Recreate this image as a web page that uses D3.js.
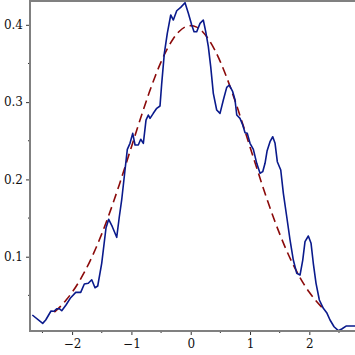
<!DOCTYPE html>
<html><head><meta charset="utf-8">
<script src="https://cdn.jsdelivr.net/npm/d3@7"></script>
<style>body{margin:0;background:#fff}svg{display:block}</style>
</head><body>
<svg id="c" width="355" height="355"></svg>
<script>
// Empirical density (blue line)
const densX = [-2.671,-2.496,-2.445,-2.356,-2.305,-2.260,-2.216,-2.175,-2.103,-2.024,-1.939,-1.855,-1.794,-1.727,-1.669,-1.614,-1.568,-1.501,-1.428,-1.383,-1.322,-1.248,-1.204,-1.164,-1.108,-1.069,-1.024,-0.978,-0.939,-0.884,-0.843,-0.799,-0.754,-0.715,-0.686,-0.631,-0.573,-0.518,-0.489,-0.445,-0.395,-0.337,-0.293,-0.236,-0.169,-0.096,-0.040,0.017,0.056,0.101,0.157,0.212,0.253,0.297,0.337,0.381,0.438,0.494,0.550,0.607,0.651,0.708,0.747,0.776,0.831,0.877,0.916,0.954,1.000,1.056,1.113,1.169,1.214,1.253,1.287,1.337,1.383,1.422,1.460,1.518,1.562,1.619,1.675,1.730,1.788,1.843,1.889,1.927,1.983,2.029,2.067,2.113,2.169,2.236,2.293,2.349,2.417,2.489,2.546,2.619,2.800];
const densY = [0.0246,0.0138,0.0181,0.0298,0.0294,0.0327,0.0327,0.0301,0.0375,0.0470,0.0539,0.0539,0.0647,0.0656,0.0702,0.0599,0.0621,0.0915,0.1375,0.1484,0.1388,0.1251,0.1517,0.1734,0.2122,0.2389,0.2467,0.2596,0.2445,0.2445,0.2519,0.2467,0.2768,0.2833,0.2790,0.2855,0.2920,0.2950,0.3243,0.3631,0.3890,0.4127,0.4062,0.4182,0.4226,0.4286,0.4149,0.3997,0.3911,0.3911,0.4019,0.4062,0.3911,0.3717,0.3458,0.3114,0.2898,0.2855,0.3027,0.3191,0.3221,0.3135,0.3027,0.2833,0.2790,0.2704,0.2604,0.2596,0.2467,0.2389,0.2208,0.2079,0.2100,0.2208,0.2367,0.2488,0.2552,0.2467,0.2229,0.2122,0.1820,0.1517,0.1216,0.0957,0.0785,0.0763,0.0957,0.1194,0.1268,0.1173,0.0915,0.0656,0.0440,0.0332,0.0276,0.0181,0.0094,0.0043,0.0065,0.0103,0.0103];
// Reference curve (dashed red)
const refX = [-2.3,-2.2,-2.1,-2.0,-1.9,-1.8,-1.7,-1.6,-1.5,-1.4,-1.3,-1.2,-1.1,-1.0,-0.9,-0.8,-0.7,-0.6,-0.5,-0.4,-0.3,-0.2,-0.1,0,0.1,0.2,0.3,0.4,0.5,0.6,0.7,0.8,0.9,1.0,1.1,1.2,1.3,1.4,1.5,1.6,1.7,1.8,1.9,2.0,2.1,2.2,2.25];
const refY = [0.0283,0.0355,0.0440,0.0540,0.0656,0.0790,0.0940,0.1109,0.1295,0.1497,0.1714,0.1942,0.2179,0.2420,0.2661,0.2897,0.3123,0.3332,0.3521,0.3683,0.3814,0.3910,0.3970,0.3989,0.3970,0.3910,0.3814,0.3683,0.3521,0.3332,0.3123,0.2897,0.2661,0.2420,0.2179,0.1942,0.1714,0.1497,0.1295,0.1109,0.0940,0.0790,0.0656,0.0540,0.0440,0.0355,0.0317];
const xMajor = [-2,-1,0,1,2];
const xMinor = [-2.5,-1.5,-0.5,0.5,1.5,2.5];
const yMajor = [0.1,0.2,0.3,0.4];
const yMinor = [0.05,0.15,0.25,0.35];

const svg = d3.select("#c");
const L = 30, R = 355, T = 1, B = 331;
const x = d3.scaleLinear().domain([-2.71, 2.77]).range([L, R]);
const y = d3.scaleLinear().domain([0.0039, 0.4308]).range([B, T]);

const axisColor = "#808080";
const font = "'DejaVu Serif', serif";

// clip
svg.append("clipPath").attr("id","clip").append("rect")
  .attr("x", L).attr("y", 0).attr("width", R - L).attr("height", B + 2);

const g = svg.append("g").attr("clip-path","url(#clip)");
g.append("path")
  .attr("d", d3.line().x((d,i)=>x(refX[i])).y((d,i)=>y(refY[i])).curve(d3.curveMonotoneX)(refX))
  .attr("fill","none").attr("stroke","#8b0a0a").attr("stroke-width",1.6)
  .attr("stroke-dasharray","9,5");
g.append("path")
  .attr("d", d3.line().x((d,i)=>x(densX[i])).y((d,i)=>y(densY[i]))(densX))
  .attr("fill","none").attr("stroke","#0a1a8c").attr("stroke-width",1.6)
  .attr("stroke-linejoin","round");

// axes
const xAx = svg.append("g").attr("transform", `translate(0,${B})`)
  .call(d3.axisBottom(x).tickValues(xMajor).tickSize(4).tickPadding(4)
    .tickFormat(d => d < 0 ? "\u2212" + Math.abs(d) : d));
xAx.select(".domain").remove();
const yAx = svg.append("g").attr("transform", `translate(${L},0)`)
  .call(d3.axisLeft(y).tickValues(yMajor).tickSize(4).tickPadding(3)
    .tickFormat(d3.format(".1f")));
yAx.select(".domain").remove();
[xAx, yAx].forEach(a => {
  a.selectAll("line").attr("stroke", "#333").attr("stroke-width", 1);
  a.selectAll("text").attr("font-family", font).attr("font-size", 12).attr("fill", "#111");
});
// minor ticks
svg.append("g").selectAll("line").data(xMinor).join("line")
  .attr("x1", d=>x(d)).attr("x2", d=>x(d)).attr("y1", B).attr("y2", B+2)
  .attr("stroke","#333");
svg.append("g").selectAll("line").data(yMinor).join("line")
  .attr("y1", d=>y(d)).attr("y2", d=>y(d)).attr("x1", L-2).attr("x2", L)
  .attr("stroke","#333");

// frame lines
svg.append("line").attr("x1", L).attr("x2", R).attr("y1", B).attr("y2", B)
  .attr("stroke", axisColor).attr("stroke-width", 2);
svg.append("line").attr("x1", L).attr("x2", L).attr("y1", T - 1).attr("y2", B + 1)
  .attr("stroke", axisColor).attr("stroke-width", 2);
svg.append("line").attr("x1", L).attr("x2", R).attr("y1", T).attr("y2", T)
  .attr("stroke", axisColor).attr("stroke-width", 2);
</script>
</body></html>
